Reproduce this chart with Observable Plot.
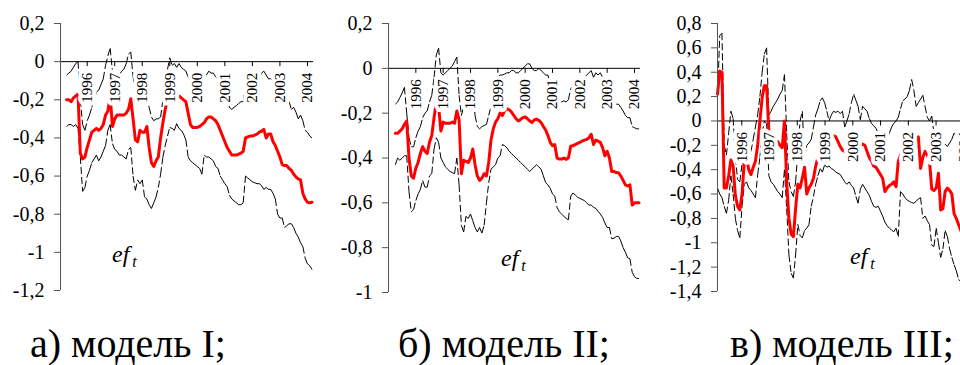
<!DOCTYPE html>
<html><head><meta charset="utf-8">
<script src="https://cdn.jsdelivr.net/npm/d3@7"></script>
<script src="https://cdn.jsdelivr.net/npm/@observablehq/plot@0.6"></script>
<style>
html,body{margin:0;padding:0;background:#fff}
body{width:960px;height:365px;overflow:hidden;position:relative;font-family:"Liberation Serif","Times New Roman",serif;color:#000}
svg, svg text{font-family:"Liberation Serif","Times New Roman",serif !important}
.panel{position:absolute;top:0}
.cap{position:absolute;font-size:40px;line-height:40px;white-space:nowrap}
.ef{position:absolute;font-size:24px;line-height:24px;font-style:italic;white-space:nowrap}
.ef sub{font-size:16px;vertical-align:-5px;margin-left:3px}
</style></head><body>
<div id="pa" class="panel" style="left:0px"></div>
<div id="pb" class="panel" style="left:320px"></div>
<div id="pc" class="panel" style="left:640px"></div>
<div class="ef" style="left:112px;top:242px">ef<sub>t</sub></div>
<div class="ef" style="left:501px;top:246px">ef<sub>t</sub></div>
<div class="ef" style="left:850px;top:244px">ef<sub>t</sub></div>
<div class="cap" style="left:30px;top:324px">а) модель I;</div>
<div class="cap" style="left:398px;top:324px">б) модель II;</div>
<div class="cap" style="left:730px;top:324px">в) модель III;</div>
<script>
const years = [1996, 1997, 1998, 1999, 2000, 2001, 2002, 2003, 2004];
const yTicksA = [0.2, 0, -0.2, -0.4, -0.6, -0.8, -1, -1.2];
const yTicksB = [0.2, 0, -0.2, -0.4, -0.6, -0.8, -1];
const yTicksC = [0.8, 0.6, 0.4, 0.2, 0, -0.2, -0.4, -0.6, -0.8, -1, -1.2, -1.4];

// monthly observations
const monthsAB = d3.range(108).map(i => 1995.25 + i / 12);
const monthsC = d3.range(110).map(i => 1995.126 + i * 0.0804);

const redA = [-0.20,-0.20,-0.21,-0.19,-0.18,-0.17,-0.48,-0.51,-0.50,-0.45,
 -0.41,-0.37,-0.36,-0.35,-0.36,-0.35,-0.33,-0.28,-0.26,-0.18,
 -0.34,-0.30,-0.28,-0.28,-0.28,-0.28,-0.27,-0.25,-0.195,-0.30,
 -0.41,-0.42,-0.36,-0.37,-0.37,-0.34,-0.45,-0.53,-0.55,-0.52,
 -0.50,-0.40,-0.32,-0.25,-0.20,-0.18,-0.17,-0.19,-0.20,-0.18,
 -0.19,-0.20,-0.21,-0.27,-0.33,-0.345,-0.345,-0.345,-0.34,-0.33,
 -0.32,-0.30,-0.29,-0.29,-0.30,-0.31,-0.33,-0.36,-0.39,-0.42,
 -0.45,-0.47,-0.49,-0.49,-0.49,-0.485,-0.48,-0.47,-0.40,-0.395,
 -0.39,-0.39,-0.385,-0.38,-0.37,-0.365,-0.355,-0.40,-0.38,-0.38,
 -0.42,-0.44,-0.47,-0.50,-0.54,-0.545,-0.545,-0.56,-0.57,-0.59,
 -0.605,-0.615,-0.62,-0.69,-0.72,-0.737,-0.74,-0.737];
const upperA = [-0.07,-0.06,-0.05,-0.03,-0.01,0.00,-0.20,-0.33,-0.36,-0.31,
 -0.28,-0.24,-0.20,-0.16,-0.15,-0.12,-0.09,-0.02,0.03,0.07,
 -0.05,-0.06,-0.08,-0.07,-0.05,-0.04,-0.01,0.04,0.05,-0.08,
 -0.15,-0.16,-0.12,-0.13,-0.12,-0.18,-0.24,-0.29,-0.31,-0.30,
 -0.30,-0.29,-0.20,-0.12,-0.04,0.02,-0.02,-0.01,-0.03,-0.01,
 -0.03,-0.04,-0.05,-0.08,-0.10,-0.12,-0.12,-0.12,-0.12,-0.10,
 -0.08,-0.07,-0.05,-0.06,-0.06,-0.08,-0.09,-0.10,-0.14,-0.16,
 -0.18,-0.24,-0.25,-0.24,-0.23,-0.22,-0.21,-0.21,-0.13,-0.12,
 -0.12,-0.11,-0.10,-0.09,-0.08,-0.06,-0.05,-0.07,-0.09,-0.09,
 -0.10,-0.12,-0.15,-0.18,-0.20,-0.22,-0.22,-0.21,-0.25,-0.24,
 -0.265,-0.30,-0.28,-0.31,-0.36,-0.37,-0.39,-0.40];
const lowerA = [-0.34,-0.33,-0.33,-0.34,-0.33,-0.35,-0.50,-0.68,-0.66,-0.60,
 -0.57,-0.53,-0.51,-0.49,-0.52,-0.50,-0.47,-0.44,-0.36,-0.33,
 -0.43,-0.46,-0.47,-0.49,-0.49,-0.50,-0.51,-0.46,-0.45,-0.60,
 -0.675,-0.62,-0.64,-0.62,-0.71,-0.72,-0.75,-0.77,-0.74,-0.71,
 -0.66,-0.59,-0.50,-0.44,-0.39,-0.345,-0.35,-0.36,-0.325,-0.35,
 -0.36,-0.38,-0.41,-0.50,-0.52,-0.53,-0.54,-0.55,-0.56,-0.59,
 -0.49,-0.50,-0.50,-0.51,-0.52,-0.55,-0.56,-0.60,-0.62,-0.64,
 -0.655,-0.70,-0.72,-0.73,-0.74,-0.75,-0.75,-0.74,-0.60,-0.61,
 -0.62,-0.63,-0.635,-0.64,-0.64,-0.65,-0.67,-0.66,-0.67,-0.67,
 -0.69,-0.72,-0.80,-0.82,-0.82,-0.87,-0.86,-0.85,-0.85,-0.87,
 -0.90,-0.92,-0.95,-0.97,-1.03,-1.06,-1.07,-1.09];

const redB = [-0.29,-0.29,-0.28,-0.27,-0.25,-0.235,-0.40,-0.48,-0.49,-0.445,
 -0.42,-0.38,-0.35,-0.37,-0.38,-0.33,-0.30,-0.22,-0.15,-0.17,
 -0.28,-0.24,-0.245,-0.245,-0.245,-0.24,-0.245,-0.19,-0.23,-0.47,
 -0.41,-0.415,-0.42,-0.40,-0.36,-0.43,-0.48,-0.50,-0.49,-0.47,
 -0.48,-0.42,-0.32,-0.27,-0.24,-0.225,-0.20,-0.21,-0.19,-0.18,
 -0.185,-0.195,-0.21,-0.225,-0.235,-0.228,-0.22,-0.217,-0.225,-0.235,
 -0.242,-0.23,-0.227,-0.232,-0.242,-0.26,-0.275,-0.30,-0.33,-0.345,
 -0.34,-0.40,-0.405,-0.405,-0.40,-0.406,-0.40,-0.347,-0.345,-0.34,
 -0.335,-0.33,-0.325,-0.32,-0.317,-0.31,-0.294,-0.34,-0.32,-0.325,
 -0.33,-0.354,-0.39,-0.37,-0.40,-0.46,-0.46,-0.465,-0.466,-0.48,
 -0.50,-0.52,-0.525,-0.52,-0.61,-0.60,-0.60,-0.60];
const upperB = [-0.16,-0.15,-0.13,-0.11,-0.085,-0.20,-0.31,-0.35,-0.35,-0.31,
 -0.28,-0.26,-0.22,-0.20,-0.19,-0.15,-0.12,-0.04,0.06,0.09,
 -0.02,-0.03,-0.02,-0.01,0.00,0.01,0.03,0.05,-0.12,-0.21,
 -0.17,-0.16,-0.15,-0.13,-0.10,-0.21,-0.26,-0.27,-0.26,-0.255,
 -0.25,-0.21,-0.17,-0.10,-0.06,-0.04,-0.03,-0.03,-0.025,-0.02,
 -0.02,-0.01,-0.01,-0.02,-0.02,-0.01,0.00,0.01,0.02,0.02,
 0.00,-0.01,-0.01,0.00,-0.01,-0.02,-0.03,-0.03,-0.08,-0.10,
 -0.10,-0.14,-0.15,-0.15,-0.145,-0.15,-0.14,-0.09,-0.08,-0.07,
 -0.06,-0.05,-0.05,-0.04,-0.03,-0.02,-0.01,-0.04,-0.02,-0.03,
 -0.02,-0.04,-0.06,-0.08,-0.10,-0.14,-0.15,-0.16,-0.16,-0.175,
 -0.19,-0.21,-0.22,-0.22,-0.26,-0.265,-0.27,-0.27];
const lowerB = [-0.43,-0.40,-0.41,-0.40,-0.39,-0.39,-0.55,-0.64,-0.63,-0.59,
 -0.56,-0.54,-0.50,-0.53,-0.53,-0.48,-0.47,-0.36,-0.31,-0.33,
 -0.40,-0.42,-0.44,-0.45,-0.46,-0.465,-0.47,-0.40,-0.52,-0.70,
 -0.73,-0.66,-0.67,-0.65,-0.68,-0.71,-0.73,-0.71,-0.735,-0.70,
 -0.60,-0.51,-0.45,-0.44,-0.43,-0.40,-0.39,-0.34,-0.345,-0.355,
 -0.37,-0.38,-0.39,-0.40,-0.41,-0.42,-0.43,-0.44,-0.45,-0.46,
 -0.45,-0.44,-0.43,-0.44,-0.45,-0.48,-0.51,-0.52,-0.535,-0.56,
 -0.57,-0.62,-0.64,-0.65,-0.66,-0.67,-0.675,-0.57,-0.556,-0.565,
 -0.575,-0.58,-0.585,-0.59,-0.60,-0.61,-0.61,-0.62,-0.625,-0.638,
 -0.65,-0.665,-0.69,-0.71,-0.71,-0.76,-0.758,-0.75,-0.75,-0.77,
 -0.80,-0.82,-0.845,-0.85,-0.91,-0.93,-0.937,-0.937];

const redC = [0.22,0.41,0.40,-0.55,-0.55,-0.45,-0.32,-0.37,-0.61,-0.70,
 -0.73,-0.60,-0.33,-0.30,-0.40,-0.44,-0.38,-0.33,-0.20,0.00,
 0.19,0.29,0.29,-0.08,-0.20,-0.15,-0.18,-0.17,-0.20,-0.22,
 0.00,-0.50,-0.80,-0.93,-0.95,-0.72,-0.52,-0.55,-0.47,-0.38,
 -0.60,-0.55,-0.52,-0.47,-0.37,-0.30,-0.25,-0.22,-0.20,-0.20,
 -0.18,-0.15,-0.12,-0.13,-0.17,-0.21,-0.24,-0.25,-0.27,-0.28,
 -0.27,-0.25,-0.22,-0.20,-0.19,-0.19,-0.20,-0.25,-0.30,-0.33,
 -0.37,-0.38,-0.41,-0.44,-0.47,-0.58,-0.55,-0.53,-0.52,-0.50,
 -0.54,-0.33,-0.28,-0.25,-0.22,-0.22,-0.24,-0.22,-0.20,-0.15,
 -0.13,-0.39,-0.30,-0.25,-0.28,-0.33,-0.56,-0.57,-0.55,-0.43,
 -0.73,-0.72,-0.58,-0.55,-0.57,-0.60,-0.76,-0.80,-0.85,-0.90];
const upperC = [0.19,0.70,0.72,-0.20,-0.28,-0.10,0.08,0.02,-0.30,-0.48,
 -0.50,-0.35,-0.25,-0.22,-0.25,-0.25,-0.15,-0.05,0.05,0.20,
 0.40,0.55,0.60,0.05,0.08,0.12,0.15,0.18,0.22,0.25,
 0.38,-0.10,-0.50,-0.58,-0.62,-0.50,-0.25,0.00,0.08,-0.30,
 -0.20,-0.18,-0.15,-0.05,0.05,0.10,0.165,0.19,0.15,0.08,
 0.00,0.05,0.08,0.07,0.08,0.06,0.08,-0.05,0.00,0.06,
 0.15,0.22,0.17,0.12,0.01,0.12,0.10,0.08,0.02,-0.02,
 -0.04,-0.06,-0.10,-0.12,-0.14,-0.16,-0.14,-0.10,-0.05,-0.02,
 0.00,0.03,0.10,0.165,0.18,0.20,0.25,0.34,0.25,0.12,
 0.15,0.18,0.21,0.12,0.03,0.00,0.04,-0.10,-0.15,-0.12,
 -0.22,-0.20,-0.19,-0.21,-0.18,-0.15,-0.10,-0.12,-0.10,-0.14];
const lowerC = [-0.55,-0.60,-0.63,-0.70,-0.76,-0.65,-0.45,-0.60,-0.80,-0.90,
 -0.96,-0.70,-0.52,-0.50,-0.55,-0.57,-0.60,-0.63,-0.44,-0.30,
 -0.10,0.00,-0.02,-0.45,-0.50,-0.52,-0.55,-0.58,-0.60,-0.63,
 -0.40,-0.72,-1.10,-1.25,-1.29,-1.10,-0.85,-0.94,-0.96,-0.90,
 -0.88,-0.85,-0.70,-0.62,-0.52,-0.45,-0.39,-0.42,-0.36,-0.38,
 -0.37,-0.39,-0.40,-0.42,-0.43,-0.44,-0.47,-0.50,-0.52,-0.50,
 -0.53,-0.55,-0.62,-0.675,-0.56,-0.52,-0.55,-0.58,-0.61,-0.66,
 -0.70,-0.71,-0.70,-0.74,-0.78,-0.83,-0.86,-0.88,-0.895,-0.91,
 -0.88,-0.95,-0.58,-0.60,-0.63,-0.65,-0.66,-0.67,-0.675,-0.66,
 -0.64,-0.63,-0.80,-0.78,-0.82,-0.85,-1.02,-1.03,-0.88,-1.00,
 -1.12,-1.05,-0.90,-0.95,-1.05,-1.12,-1.18,-1.23,-1.30,-1.32];

const SERIF = "Liberation Serif";
const fmt = d => (Math.abs(d) < 1e-9 ? "0" : String(+d.toFixed(1)).replace(".", ","));

function panel(o) {
  const {t, red, upper, lower, xDomain, yDomain, yTicks, width, height, marginLeft, marginRight, marginTop, marginBottom} = o;
  const rows = t.map((x, i) => ({t: x, v: red[i]}));
  const seg = arr => arr.slice(1).map((v, i) => ({x1: t[i], y1: arr[i], x2: t[i + 1], y2: v}));
  const innerH = height - marginTop - marginBottom;
  const tickLen = 5 * (yDomain[1] - yDomain[0]) / innerH;
  const dash = {x1: "x1", y1: "y1", x2: "x2", y2: "y2", stroke: "black", strokeWidth: 1, strokeDasharray: "7,3"};
  return Plot.plot({
    width, height, marginLeft, marginRight, marginTop, marginBottom,
    x: {domain: xDomain, axis: null},
    y: {domain: yDomain, axis: null},
    style: {fontFamily: SERIF, background: "transparent", overflow: "visible", color: "black"},
    marks: [
      Plot.ruleY([0], {stroke: "black", strokeWidth: 1}),
      Plot.ruleX(years, {x: d => d, y1: 0, y2: -tickLen, stroke: "black"}),
      Plot.link(seg(upper), dash),
      Plot.link(seg(lower), dash),
      Plot.line(rows, {x: "t", y: "v", stroke: "#ff0000", strokeWidth: 3}),
      Plot.text(years, {x: d => d, y: 0, text: d => String(d), rotate: -90, textAnchor: "end", lineAnchor: "middle",
        dy: 11, fontSize: 15, fontFamily: SERIF, fill: "black", stroke: "white", strokeWidth: 8, strokeLinejoin: "round", paintOrder: "stroke"}),
      Plot.ruleX([xDomain[0]], {y1: yDomain[0], y2: yDomain[1], stroke: "#555"}),
      Plot.axisY(yTicks, {tickSize: 6, tickPadding: 10, fontSize: 20, fontFamily: SERIF, tickFormat: fmt, stroke: "#555", fill: "black"})
    ]
  });
}

document.getElementById("pa").append(panel({t: monthsAB, red: redA, upper: upperA, lower: lowerA,
  xDomain: [1995.03, 2004.22], yDomain: [-1.2, 0.2], yTicks: yTicksA,
  width: 320, height: 300, marginLeft: 60, marginRight: 7, marginTop: 23, marginBottom: 10}));
document.getElementById("pb").append(panel({t: monthsAB, red: redB, upper: upperB, lower: lowerB,
  xDomain: [1995.0, 2004.22], yDomain: [-1, 0.2], yTicks: yTicksB,
  width: 320, height: 300, marginLeft: 68, marginRight: 0, marginTop: 23, marginBottom: 8}));
document.getElementById("pc").append(panel({t: monthsC, red: redC, upper: upperC, lower: lowerC,
  xDomain: [1995.126, 2003.88], yDomain: [-1.4, 0.8], yTicks: yTicksC,
  width: 320, height: 300, marginLeft: 77, marginRight: 0, marginTop: 23, marginBottom: 9}));
</script>
</body></html>
